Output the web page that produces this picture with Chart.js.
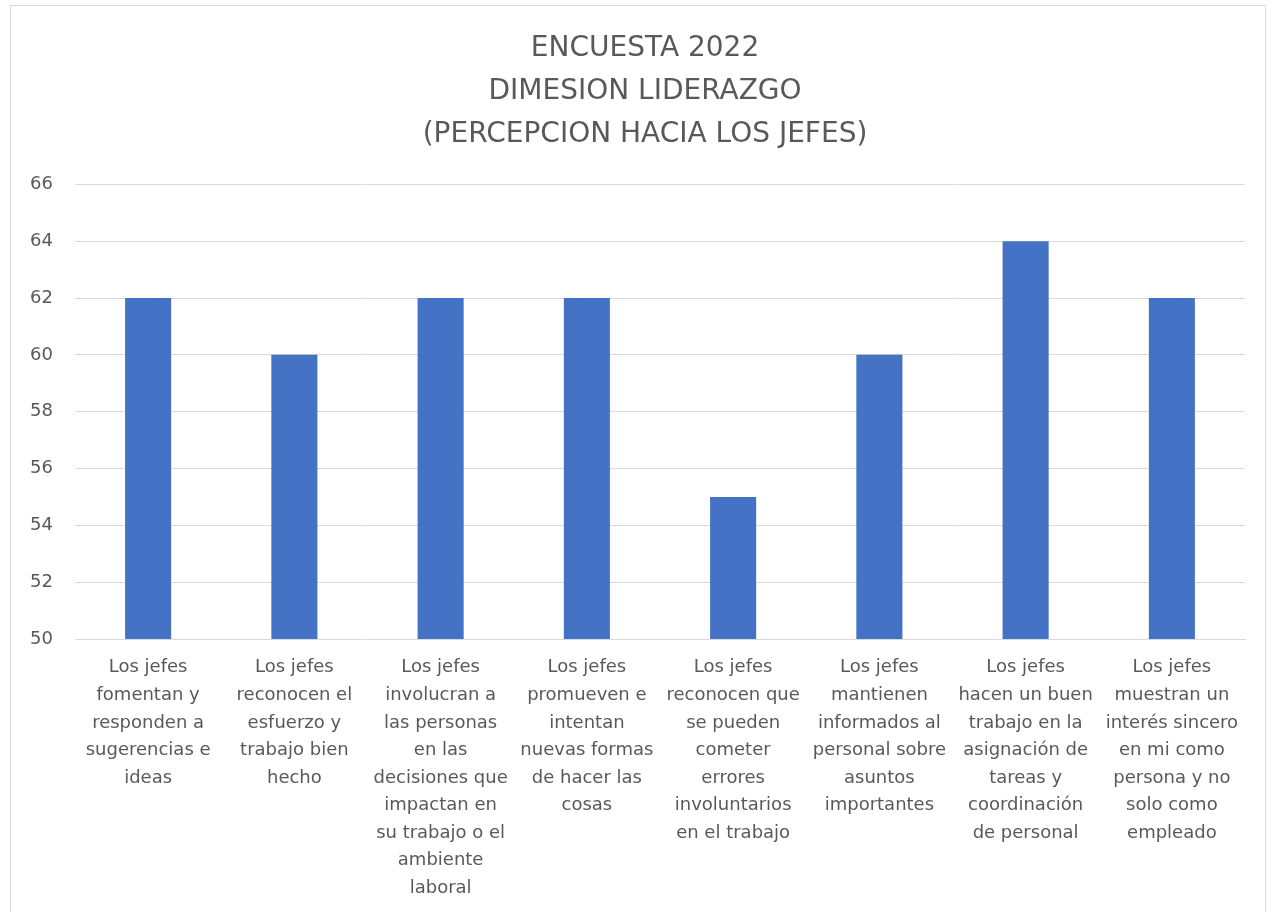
<!DOCTYPE html>
<html>
<head>
<meta charset="utf-8">
<script src="https://cdn.jsdelivr.net/npm/chart.js@4"></script>
<style>
  html, body { margin: 0; padding: 0; background: #ffffff; width: 1275px; height: 912px; overflow: hidden; }
  #wrap { position: absolute; left: 10px; top: 5px; width: 1256px; height: 912px; border: 1px solid #d9d9d9; box-sizing: border-box; background: #fff; }
  #wrap canvas { display: block; }
</style>
</head>
<body>
<div id="wrap"><canvas id="c"></canvas></div>
<script>
const titleLines = ["ENCUESTA 2022", "DIMESION LIDERAZGO", "(PERCEPCION HACIA LOS JEFES)"];
const categories = [
  ["Los jefes", "fomentan y", "responden a", "sugerencias e", "ideas"],
  ["Los jefes", "reconocen el", "esfuerzo y", "trabajo bien", "hecho"],
  ["Los jefes", "involucran a", "las personas", "en las", "decisiones que", "impactan en", "su trabajo o el", "ambiente", "laboral"],
  ["Los jefes", "promueven e", "intentan", "nuevas formas", "de hacer las", "cosas"],
  ["Los jefes", "reconocen que", "se pueden", "cometer", "errores", "involuntarios", "en el trabajo"],
  ["Los jefes", "mantienen", "informados al", "personal sobre", "asuntos", "importantes"],
  ["Los jefes", "hacen un buen", "trabajo en la", "asignación de", "tareas y", "coordinación", "de personal"],
  ["Los jefes", "muestran un", "interés sincero", "en mi como", "persona y no", "solo como", "empleado"]
];
const values = [62, 60, 62, 62, 55, 60, 64, 62];
const yMin = 50, yMax = 66, yStep = 2;

const FONT = "'DejaVu Sans', sans-serif";
new Chart(document.getElementById('c'), {
  type: 'bar',
  data: {
    labels: categories,
    datasets: [{
      data: values,
      backgroundColor: '#4472C4',
      borderWidth: 0,
      barPercentage: 0.315,
      categoryPercentage: 1.0
    }]
  },
  options: {
    responsive: true,
    maintainAspectRatio: false,
    animation: false,
    layout: { padding: { left: 34, right: 20, top: 0, bottom: 0 } },
    plugins: {
      legend: { display: false },
      tooltip: { enabled: false },
      title: {
        display: true,
        text: titleLines,
        color: '#595959',
        font: { family: FONT, size: 28, weight: 'normal', lineHeight: 1.54 },
        padding: { top: 21, bottom: 28 }
      }
    },
    scales: {
      x: {
        grid: { display: false, drawTicks: false },
        border: { display: true, color: '#d9d9d9', width: 1 },
        ticks: {
          color: '#595959',
          font: { family: FONT, size: 18, lineHeight: 1.53 },
          maxRotation: 0, minRotation: 0, autoSkip: false,
          padding: 15
        },
        afterFit(scale) { scale.height = 277; }
      },
      y: {
        min: yMin, max: yMax,
        grid: { color: '#d9d9d9', drawTicks: false },
        border: { display: false },
        ticks: {
          stepSize: yStep,
          color: '#595959',
          font: { family: FONT, size: 18 },
          mirror: true,
          crossAlign: 'far',
          padding: -45
        },
        afterFit(scale) { scale.width = 30; }
      }
    }
  }
});
</script>
</body>
</html>
